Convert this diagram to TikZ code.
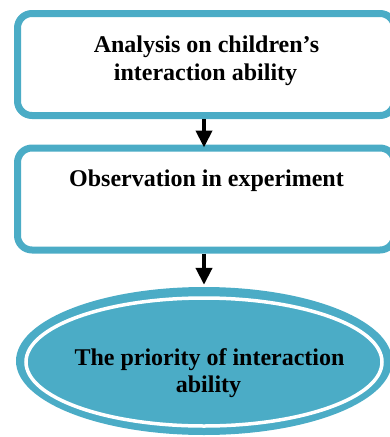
\documentclass[tikz,border=0pt]{standalone}
\usepackage{fontspec}
\setmainfont{Liberation Serif}
\usetikzlibrary{arrows.meta}
\definecolor{teal}{HTML}{4BACC6}
\tikzset{
  stepbox/.style={draw=teal, line width=7pt, rounded corners=14.5pt, fill=white,
    minimum width=377pt, minimum height=102pt, inner sep=0pt},
  lbl/.style={anchor=base, inner sep=0pt, font=\fontsize{24}{28}\selectfont\bfseries},
  arr/.style={line width=4pt, -{Triangle[length=17pt,width=16pt]}},
  outerell/.style={ellipse, fill=teal, minimum width=376pt, minimum height=148pt, inner sep=0pt},
  innerell/.style={ellipse, draw=white, line width=3.5pt, minimum width=356pt, minimum height=128pt, inner sep=0pt}
}
\usetikzlibrary{shapes.geometric}
\begin{document}
\begin{tikzpicture}[x=1pt,y=-1pt]
\useasboundingbox (0,0) rectangle (390,437);
\clip (0,0) rectangle (390,437);
\node[stepbox] (box1) at (206,64.5) {};
\node[stepbox] (box2) at (206,199) {};
\node[outerell] (ell) at (204,361) {};
\node[innerell] (ring) at (204,362) {};
\node[lbl] (t1a) at (206.5,52) {Analysis on children’s};
\node[lbl] (t1b) at (205.5,80.5) {interaction ability};
\node[lbl] (t2) at (206.5,186.7) {Observation in experiment};
\node[lbl] (t3a) at (209.5,365) {The priority of interaction};
\node[lbl] (t3b) at (208.5,392.3) {ability};
\draw[arr, shorten >=-3pt] ([xshift=-2pt]box1.south) -- ([xshift=-2pt]box2.north);
\draw[arr, shorten >=2pt] ([xshift=-2pt]box2.south) -- (ell.north);
\end{tikzpicture}
\end{document}
